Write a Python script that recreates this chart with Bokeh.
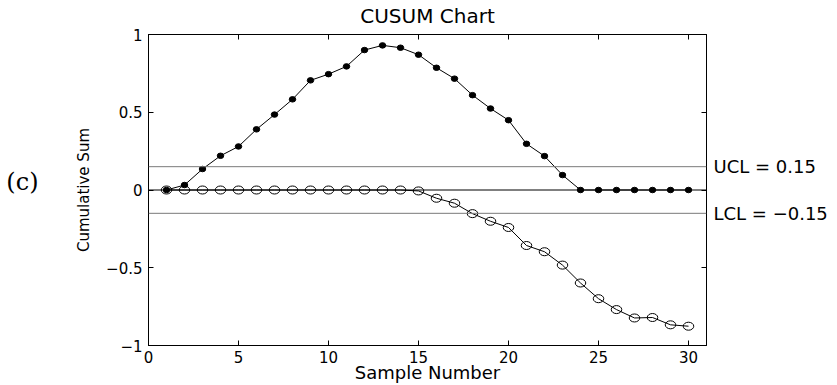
from bokeh.plotting import figure
from bokeh.models import Range1d, LinearAxis, FixedTicker, Span
from bokeh.embed import file_html
from bokeh.resources import INLINE

# ---- data ----
samples = list(range(1, 31))
cusum_upper = [0.0, 0.032, 0.135, 0.22, 0.28, 0.39, 0.485, 0.583, 0.705, 0.745,
               0.795, 0.90, 0.93, 0.915, 0.87, 0.786, 0.716, 0.61, 0.524, 0.449,
               0.297, 0.218, 0.096, 0.0, 0.0, 0.0, 0.0, 0.0, 0.0, 0.0]
cusum_lower = [0.0, 0.0, 0.0, 0.0, 0.0, 0.0, 0.0, 0.0, 0.0, 0.0,
               0.0, 0.0, 0.0, 0.0, -0.006, -0.053, -0.085, -0.152, -0.201, -0.241,
               -0.357, -0.397, -0.483, -0.598, -0.699, -0.769, -0.823, -0.82, -0.867, -0.876]
ucl = 0.15
lcl = -0.15
center = 0.0
x_ticks = [0, 5, 10, 15, 20, 25, 30]
y_ticks = [-1, -0.5, 0, 0.5, 1]
y_tick_labels = {-1: "\u22121", -0.5: "\u22120.5", 0: "0", 0.5: "0.5", 1: "1"}
title_text = "CUSUM Chart"
x_label = "Sample Number"
y_label = "Cumulative Sum"
limit_labels = {0.15: "UCL = 0.15", -0.15: "LCL = \u22120.15"}
panel_label = "(c)"
panel_label_pos = 0.05

FONT = "DejaVu Sans"

p = figure(width=837, height=385, output_backend="svg", toolbar_location=None,
           x_range=Range1d(0, 31), y_range=Range1d(-1, 1),
           min_border_left=148, min_border_right=131, min_border_top=34,
           min_border_bottom=39)
p.grid.visible = False
p.background_fill_color = "white"
p.border_fill_color = "white"
p.outline_line_color = "black"
p.outline_line_width = 1


def style_ticks(ax):
    ax.major_tick_in = 5
    ax.major_tick_out = 0
    ax.minor_tick_line_color = None
    ax.axis_line_color = "black"
    ax.major_tick_line_color = "black"


# bottom axis
xa = p.xaxis[0]
style_ticks(xa)
xa.ticker = FixedTicker(ticks=x_ticks)
xa.major_label_text_font = FONT
xa.major_label_text_font_size = "15px"
xa.major_label_text_color = "black"
xa.major_label_standoff = 5
xa.axis_label = x_label
xa.axis_label_text_font = FONT
xa.axis_label_text_font_size = "18px"
xa.axis_label_text_font_style = "normal"
xa.axis_label_text_color = "black"
xa.axis_label_standoff = -4

# left axis
ya = p.yaxis[0]
style_ticks(ya)
ya.ticker = FixedTicker(ticks=y_ticks)
ya.major_label_overrides = y_tick_labels
ya.major_label_text_font = FONT
ya.major_label_text_font_size = "15px"
ya.major_label_text_color = "black"
ya.major_label_standoff = 6
ya.axis_label = y_label
ya.axis_label_text_font = FONT
ya.axis_label_text_font_size = "15px"
ya.axis_label_text_font_style = "normal"
ya.axis_label_text_color = "black"
ya.axis_label_standoff = 10

# top axis (ticks + title)
top_ax = LinearAxis(ticker=FixedTicker(ticks=x_ticks))
style_ticks(top_ax)
top_ax.major_label_text_font_size = "1px"
top_ax.major_label_text_color = None
top_ax.major_label_standoff = 0
top_ax.axis_label = title_text
top_ax.axis_label_text_font = FONT
top_ax.axis_label_text_font_size = "20px"
top_ax.axis_label_text_font_style = "normal"
top_ax.axis_label_text_color = "black"
top_ax.axis_label_standoff = 7
p.add_layout(top_ax, "above")

# right axis (ticks only)
right_ax = LinearAxis(ticker=FixedTicker(ticks=y_ticks))
style_ticks(right_ax)
right_ax.major_label_text_font_size = "1px"
right_ax.major_label_text_color = None
right_ax.major_label_standoff = 0
p.add_layout(right_ax, "right")

# right labels for control limits
lim_ax = LinearAxis(ticker=FixedTicker(ticks=list(limit_labels.keys())))
lim_ax.major_label_overrides = limit_labels
lim_ax.axis_line_color = None
lim_ax.major_tick_line_color = None
lim_ax.minor_tick_line_color = None
lim_ax.major_tick_in = 0
lim_ax.major_tick_out = 0
lim_ax.major_label_standoff = 7
lim_ax.major_label_text_font = FONT
lim_ax.major_label_text_font_size = "18px"
lim_ax.major_label_text_color = "black"
p.add_layout(lim_ax, "right")

# panel label "(c)" on the far left
pan_ax = LinearAxis(ticker=FixedTicker(ticks=[panel_label_pos]))
pan_ax.major_label_overrides = {panel_label_pos: panel_label}
pan_ax.axis_line_color = None
pan_ax.major_tick_line_color = None
pan_ax.minor_tick_line_color = None
pan_ax.major_tick_in = 0
pan_ax.major_tick_out = 0
pan_ax.major_label_standoff = 34
pan_ax.major_label_text_font = "DejaVu Serif"
pan_ax.major_label_text_font_size = "24px"
pan_ax.major_label_text_color = "black"
p.add_layout(pan_ax, "left")

# control lines
p.add_layout(Span(location=ucl, dimension="width", line_color="#7a7a7a", line_width=1))
p.add_layout(Span(location=lcl, dimension="width", line_color="#7a7a7a", line_width=1))
p.add_layout(Span(location=center, dimension="width", line_color="black", line_width=1))

# series
p.line(samples, cusum_upper, line_color="black", line_width=1)
p.line(samples, cusum_lower, line_color="black", line_width=1)
p.ellipse(samples, cusum_lower, width=10.5, height=8, width_units="screen",
          height_units="screen", fill_color=None, line_color="black", line_width=1)
p.ellipse(samples, cusum_upper, width=6.5, height=5.5, width_units="screen",
          height_units="screen", fill_color="black", line_color="black", line_width=1)

open("out.html", "w").write(file_html(p, INLINE))
